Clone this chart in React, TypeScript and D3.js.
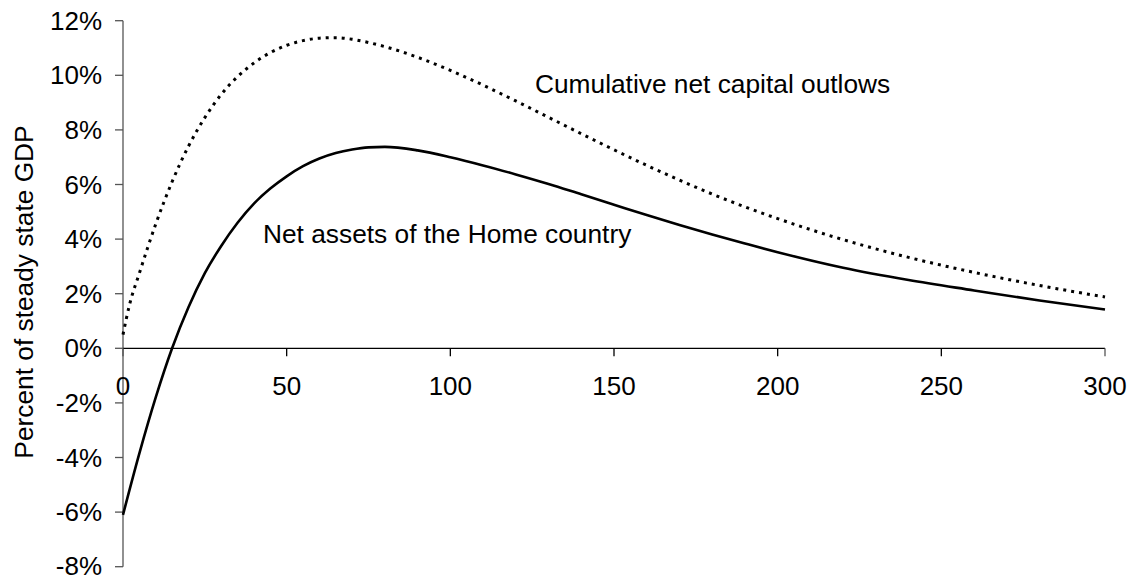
import * as d3 from 'd3';

// periods and values (percent of steady state GDP)
const outflowT = [0, 2, 5, 10, 15, 20, 25, 30, 35, 40, 45, 50, 55, 60, 65, 70, 75, 80, 90, 100, 110, 120, 130, 140, 150, 160, 170, 180, 190, 200, 220, 240, 260, 280, 300];
const outflowV = [0.5, 1.6, 2.75, 4.55, 6.1, 7.4, 8.45, 9.3, 9.95, 10.45, 10.83, 11.1, 11.27, 11.36, 11.38, 11.32, 11.2, 11.05, 10.66, 10.18, 9.64, 9.06, 8.46, 7.86, 7.27, 6.7, 6.16, 5.65, 5.18, 4.75, 3.98, 3.33, 2.78, 2.3, 1.88];

const assetsT = [0, 5, 10, 15, 20, 25, 30, 35, 40, 45, 50, 55, 60, 65, 70, 75, 80, 90, 100, 110, 120, 130, 140, 150, 160, 170, 180, 190, 200, 220, 240, 260, 280, 300];
const assetsV = [-6.1, -3.85, -1.8, 0, 1.5, 2.75, 3.75, 4.6, 5.3, 5.85, 6.3, 6.67, 6.95, 7.15, 7.28, 7.36, 7.38, 7.25, 7.0, 6.7, 6.37, 6.02, 5.64, 5.26, 4.88, 4.52, 4.17, 3.84, 3.52, 2.95, 2.5, 2.12, 1.75, 1.42];

const xTicks = [0, 50, 100, 150, 200, 250, 300];
const yTicks = [-8, -6, -4, -2, 0, 2, 4, 6, 8, 10, 12];

const W = 1133;
const H = 577;
const font = "'Liberation Sans', Arial, sans-serif";

export default function App() {
  const x = d3.scaleLinear().domain([0, 300]).range([123, 1105]);
  const y = d3.scaleLinear().domain([-8, 12]).range([566.7, 20.7]);

  const line = d3
    .line<[number, number]>()
    .x((d) => x(d[0]))
    .y((d) => y(d[1]))
    .curve(d3.curveMonotoneX);

  const outflows = outflowT.map((t, i) => [t, outflowV[i]] as [number, number]);
  const assets = assetsT.map((t, i) => [t, assetsV[i]] as [number, number]);

  return (
    <svg width={W} height={H} style={{ position: 'absolute', left: 0, top: 0, background: '#fff' }} fontFamily={font}>
      {/* y axis */}
      <line x1={x(0)} x2={x(0)} y1={y(12)} y2={y(-8)} stroke="#555" strokeWidth={1.3} />
      {yTicks.map((v) => (
        <g key={v}>
          <line x1={x(0) - 8} x2={x(0)} y1={y(v)} y2={y(v)} stroke="#555" strokeWidth={1.3} />
          <text x={102} y={y(v)} dy={v === -8 ? '0.3em' : '0.35em'} textAnchor="end" fontSize={26} fill="#000">
            {v}%
          </text>
        </g>
      ))}
      {/* x axis at zero */}
      <line x1={x(0)} x2={x(300)} y1={y(0)} y2={y(0)} stroke="#000" strokeWidth={1.3} />
      {xTicks.map((t) => (
        <g key={t}>
          <line x1={x(t)} x2={x(t)} y1={y(0)} y2={y(0) + 8} stroke={t === 0 || t === 300 ? '#555' : '#000'} strokeWidth={1.3} />
          <text x={x(t)} y={395} textAnchor="middle" fontSize={26} fill="#000">
            {t}
          </text>
        </g>
      ))}
      <text transform={`translate(33,292) rotate(-90)`} textAnchor="middle" fontSize={26.3} fill="#000">
        Percent of steady state GDP
      </text>

      <path d={line(outflows) || ''} fill="none" stroke="#000" strokeWidth={3} strokeDasharray="3 5" />
      <path d={line(assets) || ''} fill="none" stroke="#000" strokeWidth={2.6} />

      <text x={535} y={93} fontSize={26.3} fill="#000">Cumulative net capital outlows</text>
      <text x={263} y={243} fontSize={26.3} fill="#000">Net assets of the Home country</text>
    </svg>
  );
}
